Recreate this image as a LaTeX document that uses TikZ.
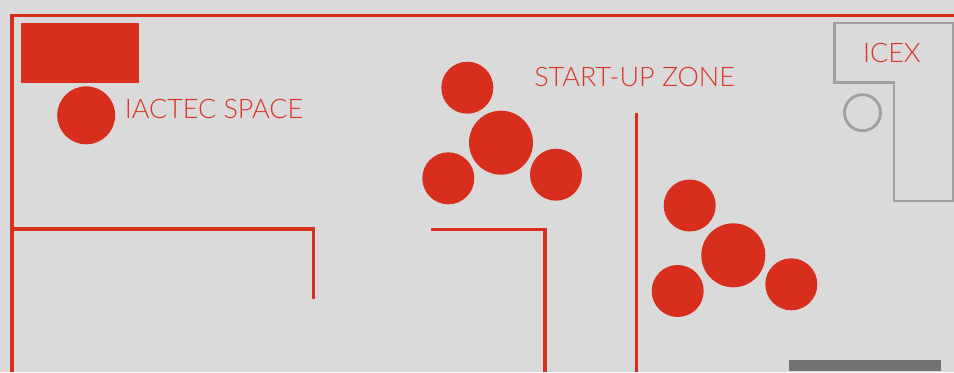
\documentclass[tikz,border=0pt]{standalone}
\usepackage{fontspec}
\setmainfont{Lato Light}
\definecolor{floorgray}{HTML}{DADADA}
\definecolor{zonered}{HTML}{D82E1D}
\definecolor{labelred}{HTML}{D93526}
\definecolor{iceXgray}{HTML}{A0A0A0}
\definecolor{bargray}{HTML}{737373}
\tikzset{
  wall/.style={draw=zonered, line width=3.4*0.75pt},
  icexline/.style={draw=iceXgray, line width=2.8*0.75pt},
  zonelabel/.style={text=labelred, font=\fontsize{20.2}{24}\selectfont, inner sep=0pt, anchor=base west}
}

\begin{document}
\begin{tikzpicture}[x=0.75pt,y=-0.75pt]
          \useasboundingbox (0,0) rectangle (954,372);
          \fill[floorgray] (0,0) rectangle (954,372);
          % outer walls and rooms
          \draw[wall] (12,372) -- (12,15.7) -- (954,15.7);
          \draw[wall] (12,229) -- (313.5,229) -- (313.5,299.3);
          \draw[wall] (431,229.3) -- (545,229.3) -- (545,372);
          \draw[wall, line width=2.7*0.75pt] (636.5,112.7) -- (636.5,372);
          % iactec space
          \fill[zonered] (21,22.7) rectangle (139,82.7);
          \fill[zonered] (86.2,115.3) circle (29);
          \node[zonelabel] (iactec) at (124.5,118) {IACTEC SPACE};
          % start-up zone
          \fill[zonered] (501,142.7) circle (32);
          \fill[zonered] (467.3,87.7) circle (26);
          \fill[zonered] (448.3,178.3) circle (26);
          \fill[zonered] (556,174.7) circle (26);
          \node[zonelabel] (startup) at (534,86.7) {START-UP ZONE};
          \fill[zonered] (733.3,255.3) circle (32);
          \fill[zonered] (689.7,205.5) circle (26);
          \fill[zonered] (677.7,291) circle (26);
          \fill[zonered] (791.3,284.3) circle (26);
          % icex
          \draw[icexline] (834.7,23) -- (953.5,23) -- (953.5,201) -- (894,201) -- (894,82.3) -- (834.7,82.3) -- cycle;
          \draw[icexline] (862.5,112.7) circle (18);
          \node[zonelabel] (icex) at (862.8,62) {ICEX};
          \fill[bargray] (789,360) rectangle (941,371);
        \end{tikzpicture}
\end{document}
